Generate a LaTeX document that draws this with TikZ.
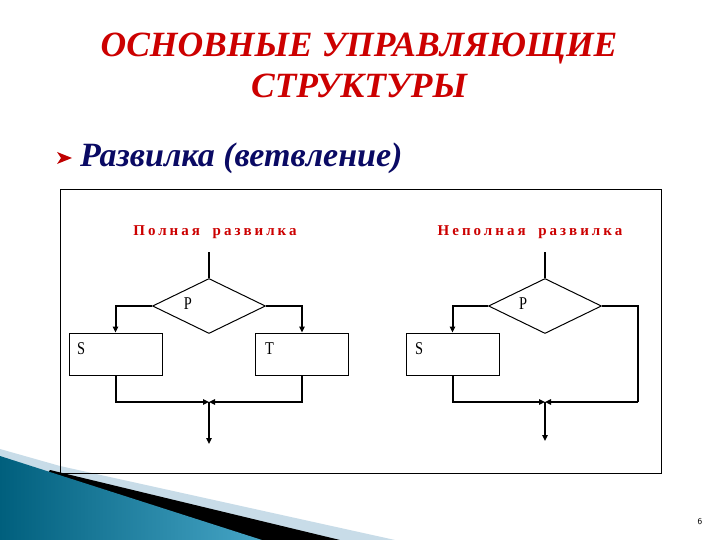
\documentclass[tikz,border=0pt]{standalone}
\usepackage{fontspec}
\setmainfont{Liberation Serif}
\newfontfamily\flowfont{Liberation Serif}
\usetikzlibrary{shapes.geometric,arrows.meta}
\definecolor{titlered}{RGB}{204,0,0}
\definecolor{navy}{RGB}{10,10,100}
\definecolor{tealdark}{RGB}{0,95,125}
\definecolor{teallight}{RGB}{70,165,198}
\definecolor{palestripe}{RGB}{200,220,232}
\tikzset{
  shapeline/.style={draw=black, line width=1pt},
  decision/.style={shapeline, diamond, minimum width=113pt, minimum height=55pt, inner sep=0pt},
  procbox/.style={shapeline, rectangle, minimum width=93pt, minimum height=42pt, inner sep=0pt},
  conn/.style={draw=black, line width=2pt},
  arr/.style={conn, -{Triangle[length=6pt,width=5.5pt]}},
  flowlabel/.style={font=\flowfont\fontsize{18}{18}\selectfont, inner sep=0pt},
  flowtitle/.style={text=titlered, font=\flowfont\bfseries\fontsize{15}{15}\selectfont\addfontfeatures{LetterSpace=20}},
}
\newcommand{\narrow}[1]{\scalebox{0.8}[1]{#1}}
\begin{document}
\begin{tikzpicture}[x=1pt,y=-1pt]
\useasboundingbox (0,0) rectangle (720,540);
\fill[white] (0,0) rectangle (720,540);

% titles
\node[text=titlered, font=\bfseries\itshape\fontsize{35.5}{35.5}\selectfont] (t1) at (359,49) {ОСНОВНЫЕ УПРАВЛЯЮЩИЕ};
\node[text=titlered, font=\bfseries\itshape\fontsize{35.5}{35.5}\selectfont] (t2) at (359,86) {СТРУКТУРЫ};

% bullet
\fill[red!75!black] (57,152) -- (72,158) -- (57,164) -- (61,158) -- cycle;
\node[anchor=west, text=navy, font=\bfseries\itshape\fontsize{34}{34}\selectfont, inner sep=0pt] (sub) at (80,158) {Развилка (ветвление)};

% bottom swoosh
\fill[palestripe] (0,449) -- (60,466) -- (395,540) -- (0,540) -- cycle;
\fill[black] (50,470) -- (340,540) -- (0,540) -- cycle;
\shade[left color=tealdark, right color=teallight] (0,456) -- (262,540) -- (0,540) -- cycle;

% frame
\draw[black, line width=1pt] (60,190) rectangle (661,473);

% ---------- left flowchart ----------
\node[flowtitle] (ft1) at (215,232) {Полная\hspace{6pt} развилка};
\coordinate (in1) at (209,252);
\node[decision] (d1) at (209,306) {};
\node[flowlabel] (p1) at (188,304) {\narrow{P}};
\node[procbox] (s1) at (115.5,354) {};
\node[flowlabel, anchor=west] (sl1) at (77,349) {\narrow{S}};
\node[procbox] (b1) at (302,354) {};
\node[flowlabel, anchor=west] (tl1) at (265,349) {\narrow{T}};
\coordinate (m1) at (209,402);
\coordinate (e1) at (209,444);

\draw[conn] (in1) -- (d1.north);
\draw[arr] (d1.west) -| (s1.north);
\draw[arr] (d1.east) -| (b1.north);
\draw[arr] (s1.south) |- (m1);
\draw[arr] (b1.south) |- (m1);
\draw[arr] (m1) -- (e1);

% ---------- right flowchart ----------
\node[flowtitle] (ft2) at (530,232) {Неполная\hspace{6pt} развилка};
\coordinate (in2) at (545,252);
\node[decision] (d2) at (545,306) {};
\node[flowlabel] (p2) at (523,304) {\narrow{P}};
\node[procbox] (s2) at (452.5,354) {};
\node[flowlabel, anchor=west] (sl2) at (415,349) {\narrow{S}};
\coordinate (r2) at (638,402);
\coordinate (m2) at (545,402);
\coordinate (e2) at (545,441);

\draw[conn] (in2) -- (d2.north);
\draw[arr] (d2.west) -| (s2.north);
\draw[conn] (d2.east) -| (r2);
\draw[arr] (r2) -- (m2);
\draw[arr] (s2.south) |- (m2);
\draw[arr] (m2) -- (e2);

% page number
\node[font=\sffamily\fontsize{9}{9}\selectfont] (pg) at (700,522) {6};
\end{tikzpicture}
\end{document}
